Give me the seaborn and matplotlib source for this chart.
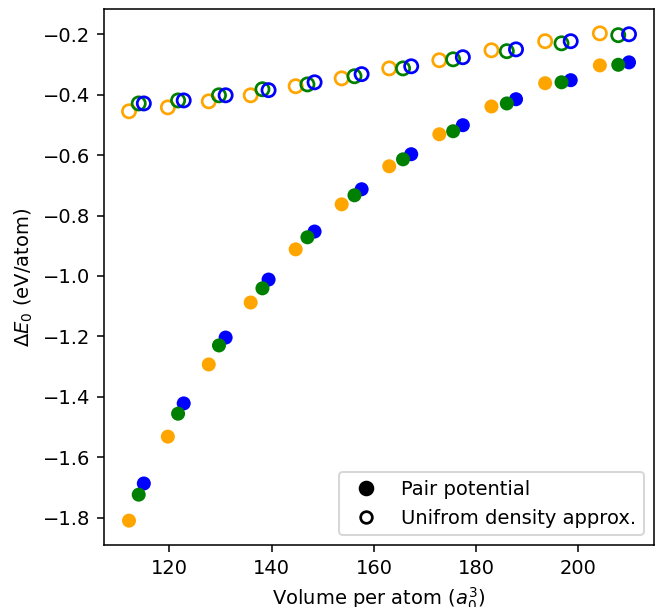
import numpy as np
import pandas as pd
import matplotlib
matplotlib.use("Agg")
import matplotlib.pyplot as plt
from matplotlib.lines import Line2D
import seaborn as sns

# Volume per atom (a0^3) for the three lattice series
vol_orange = [112.1, 119.7, 127.7, 135.9, 144.7, 153.7, 163.0, 172.8, 183.0, 193.5, 204.2]
vol_green = [114.0, 121.7, 129.7, 138.2, 147.0, 156.2, 165.7, 175.5, 186.0, 196.7, 207.8]
vol_blue = [115.0, 122.8, 131.0, 139.4, 148.4, 157.6, 167.3, 177.4, 187.8, 198.5, 209.9]

# Energy differences from the pair potential (eV/atom)
pair_orange = [-1.810, -1.532, -1.293, -1.088, -0.912, -0.763, -0.637, -0.531, -0.439, -0.362, -0.303]
pair_green = [-1.724, -1.456, -1.230, -1.041, -0.872, -0.733, -0.614, -0.521, -0.429, -0.359, -0.301]
pair_blue = [-1.687, -1.422, -1.204, -1.012, -0.853, -0.713, -0.597, -0.501, -0.415, -0.352, -0.293]

# Energy differences from the uniform density approximation (eV/atom)
uda_orange = [-0.455, -0.442, -0.422, -0.402, -0.372, -0.346, -0.313, -0.286, -0.253, -0.223, -0.197]
uda_green = [-0.429, -0.419, -0.402, -0.382, -0.366, -0.339, -0.313, -0.283, -0.256, -0.230, -0.203]
uda_blue = [-0.429, -0.419, -0.402, -0.385, -0.359, -0.332, -0.306, -0.276, -0.250, -0.223, -0.200]

series_colors = {"orange": "orange", "green": "green", "blue": "blue"}
legend_labels = ["Pair potential", "Unifrom density approx."]


def frame(vol, energy, name):
    return pd.DataFrame({"volume": vol, "energy": energy, "series": name})


pair_df = pd.concat([
    frame(vol_blue, pair_blue, "blue"),
    frame(vol_green, pair_green, "green"),
    frame(vol_orange, pair_orange, "orange"),
], ignore_index=True)

uda_df = pd.concat([
    frame(vol_orange, uda_orange, "orange"),
    frame(vol_green, uda_green, "green"),
    frame(vol_blue, uda_blue, "blue"),
], ignore_index=True)

dpi = 140
fig = plt.figure(figsize=(656 / dpi, 607 / dpi), dpi=dpi)
ax = fig.add_axes([104 / 656, 62 / 607, 550 / 656, 536 / 607])

# filled markers: pair potential
sns.scatterplot(data=pair_df, x="volume", y="energy", hue="series",
                palette=series_colors, s=52, linewidth=0, legend=False, ax=ax)

# open markers: uniform density approximation
sns.scatterplot(data=uda_df, x="volume", y="energy", hue="series",
                palette=series_colors, s=46, linewidth=0, legend=False, ax=ax)
rings = ax.collections[-1]
ring_colors = rings.get_facecolors()
rings.set_edgecolors(ring_colors)
rings.set_facecolors("none")
rings.set_linewidths(1.4)

ax.set_xlabel(r"Volume per atom ($a_0^3$)")
ax.set_ylabel(r"$\Delta E_0$ (eV/atom)")
ax.set_xticks([120, 140, 160, 180, 200])
ax.set_yticks([-1.8, -1.6, -1.4, -1.2, -1.0, -0.8, -0.6, -0.4, -0.2])

handles = [
    Line2D([], [], ls="", marker="o", color="k", markersize=7),
    Line2D([], [], ls="", marker="o", markerfacecolor="none",
           markeredgecolor="k", markeredgewidth=1.4, markersize=6),
]
ax.legend(handles, legend_labels, loc="lower right")

fig.savefig("out.png", dpi=dpi)
